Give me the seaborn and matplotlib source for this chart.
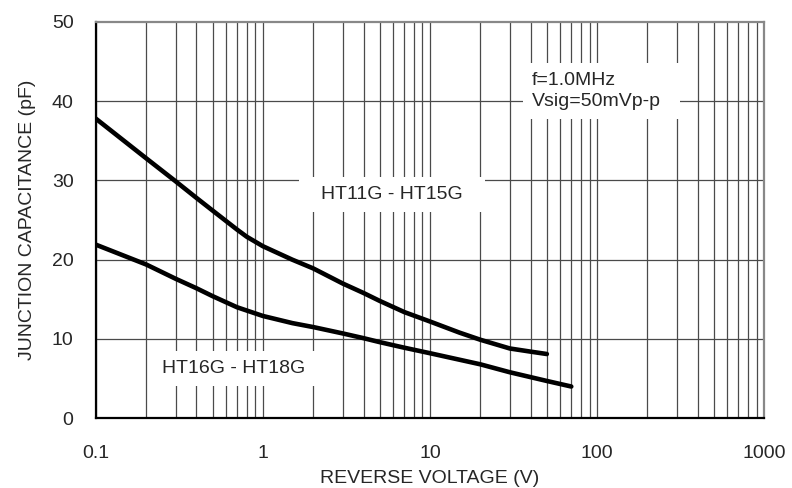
import numpy as np
import pandas as pd
import matplotlib
matplotlib.use('Agg')
import matplotlib.pyplot as plt
import matplotlib.patches as mpatches
import seaborn as sns

# values
v_ht11 = [0.1, 0.2, 0.3, 0.4, 0.5, 0.6, 0.7, 0.8, 1, 1.5, 2, 3, 4, 5, 7, 10, 15, 20, 30, 40, 50]
c_ht11 = [37.8, 32.8, 29.9, 27.8, 26.2, 24.9, 23.8, 22.9, 21.7, 20.0, 18.9, 17.0, 15.8,
          14.8, 13.4, 12.2, 10.8, 9.9, 8.8, 8.4, 8.1]

v_ht16 = [0.1, 0.2, 0.3, 0.4, 0.5, 0.7, 1, 1.5, 2, 3, 4, 5, 7, 10, 20, 30, 50, 70]
c_ht16 = [21.9, 19.4, 17.6, 16.4, 15.4, 14.0, 12.9, 12.0, 11.5, 10.7, 10.1, 9.6, 8.9,
          8.2, 6.8, 5.8, 4.7, 4.0]

x_ticks = [0.1, 1, 10, 100, 1000]
x_tick_labels = ['0.1', '1', '10', '100', '1000']
y_ticks = [0, 10, 20, 30, 40, 50]

df = pd.concat([
    pd.DataFrame({'V': v_ht11, 'C': c_ht11, 'part': 'HT11G - HT15G'}),
    pd.DataFrame({'V': v_ht16, 'C': c_ht16, 'part': 'HT16G - HT18G'}),
])

sns.set_style('white')
plt.rcParams['font.family'] = ['Liberation Sans', 'DejaVu Sans']
FS = 14

fig, ax = plt.subplots(figsize=(7.92, 4.88), dpi=100)
fig.subplots_adjust(left=0.121, right=0.965, top=0.955, bottom=0.143)

# grid: every decade subdivision vertically, every 10 pF horizontally
grid_x = [m * 10.0 ** e for e in range(-1, 3) for m in range(1, 10)] + [1000]
for gx in grid_x:
    ax.axvline(gx, color='#4a4a4a', lw=0.9, zorder=1)
for gy in y_ticks[1:-1]:
    ax.axhline(gy, color='#4a4a4a', lw=0.9, zorder=1)

sns.lineplot(data=df, x='V', y='C', hue='part', palette=['black', 'black'],
             linewidth=3.3, legend=False, ax=ax, zorder=3,
             solid_capstyle='round', solid_joinstyle='round')

ax.set_xscale('log')
ax.set_xlim(0.1, 1000)
ax.set_ylim(0, 50)
ax.set_xticks(x_ticks)
ax.set_xticklabels(x_tick_labels)
ax.set_yticks(y_ticks)
ax.minorticks_off()
ax.tick_params(length=0, labelsize=FS)
ax.tick_params(axis='x', pad=19)
ax.tick_params(axis='y', pad=16)

ax.set_xlabel('REVERSE VOLTAGE (V)', fontsize=FS, labelpad=6)
ax.set_ylabel('JUNCTION CAPACITANCE (pF)', fontsize=FS, labelpad=11)

for side in ['left', 'bottom']:
    ax.spines[side].set_color('black')
    ax.spines[side].set_linewidth(1.6)
for side in ['top', 'right']:
    ax.spines[side].set_color('#888888')
    ax.spines[side].set_linewidth(1.6)

t1 = ax.text(5.9, 28.2, 'HT11G - HT15G', fontsize=FS, ha='center', va='center', zorder=4)
t2 = ax.text(0.67, 6.3, 'HT16G - HT18G', fontsize=FS, ha='center', va='center', zorder=4)
t3 = ax.text(40.5, 41.3, 'f=1.0MHz\nVsig=50mVp-p', fontsize=FS, ha='left', va='center',
             linespacing=1.35, zorder=4)

# white masks behind the labels so the grid stops around them
fig.canvas.draw()
renderer = fig.canvas.get_renderer()
inv = ax.transAxes.inverted()
for t, (pl, pr, pv) in [(t1, (22, 22, 9)), (t2, (14, 14, 9)), (t3, (9, 19, 9))]:
    bb = t.get_window_extent(renderer)
    (x0, y0), (x1, y1) = inv.transform([(bb.x0 - pl, bb.y0 - pv), (bb.x1 + pr, bb.y1 + pv)])
    ax.add_patch(mpatches.Rectangle((x0, y0), x1 - x0, y1 - y0, transform=ax.transAxes,
                                    facecolor='white', edgecolor='none', zorder=2))

fig.savefig('out.png', dpi=100)
